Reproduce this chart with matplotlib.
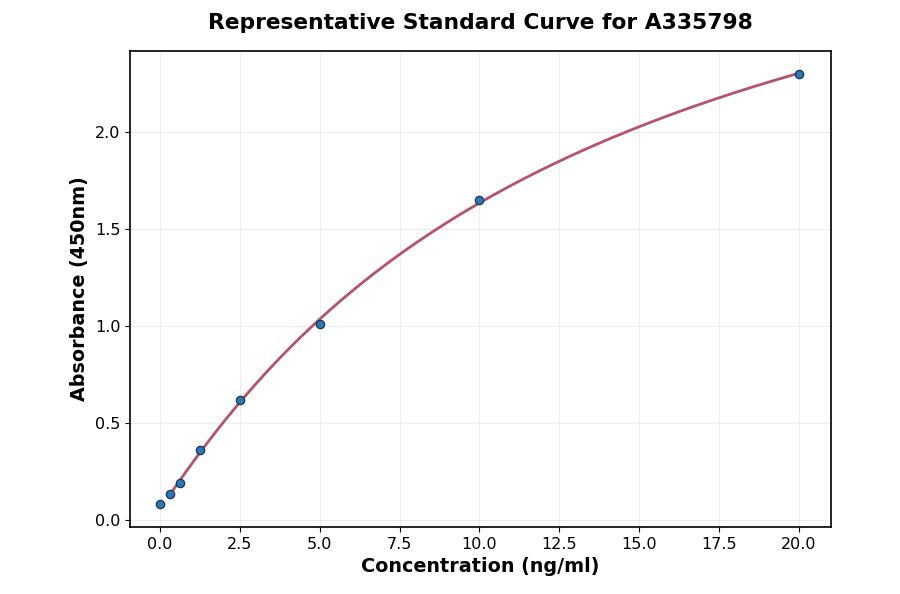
import numpy as np
import matplotlib
matplotlib.use("Agg")
import matplotlib.pyplot as plt

conc = [0.0, 0.3125, 0.625, 1.25, 2.5, 5.0, 10.0, 20.0]
absorb = [0.08, 0.135, 0.19, 0.36, 0.62, 1.01, 1.65, 2.30]


def f4pl(x, p):
    a, b, c, d = p
    return d + (a - d) / (1.0 + (x / c) ** b)


def fit4pl(x, y, p0, iters=500):
    p = np.array(p0, float)
    lam = 1e-3
    def res(p):
        return f4pl(x, p) - y
    r = res(p)
    cost = np.sum(r ** 2)
    for _ in range(iters):
        J = np.zeros((len(x), 4))
        for i in range(4):
            dp = np.zeros(4)
            dp[i] = 1e-6 * max(1.0, abs(p[i]))
            J[:, i] = (res(p + dp) - r) / dp[i]
        A = J.T @ J
        g = J.T @ r
        step = np.linalg.solve(A + lam * np.diag(np.diag(A) + 1e-12), -g)
        pn = p + step
        if pn[2] <= 0:
            lam *= 10
            continue
        rn = res(pn)
        cn = np.sum(rn ** 2)
        if cn < cost:
            p, r, cost = pn, rn, cn
            lam *= 0.3
        else:
            lam *= 10
    return p


x = np.array(conc)
y = np.array(absorb)
mask = x > 0
p = fit4pl(x[mask], y[mask], [0.05, 1.0, 15.0, 4.0])
xs = np.linspace(x[mask].min(), x.max(), 400)
ys = f4pl(xs, p)

fig = plt.figure(figsize=(9, 5.94), dpi=100)
ax = fig.add_axes([0.1445, 0.113, 0.7785, 0.801])
ax.plot(xs, ys, color="#b5536b", lw=2, zorder=2)
ax.scatter(x, y, s=36, color="#2c77b4", edgecolors="#1b3550", linewidths=0.9, zorder=3)
ax.set_xlim(-0.94, 21.0)
ax.set_ylim(-0.036, 2.418)
ax.set_xticks(np.arange(0, 20.1, 2.5))
ax.set_yticks(np.arange(0, 2.01, 0.5))
ax.tick_params(labelsize=11.5)
ax.grid(True, color="#ededed", lw=0.8)
ax.set_axisbelow(True)
for s in ax.spines.values():
    s.set_linewidth(1.2)
ax.set_xlabel("Concentration (ng/ml)", fontsize=13.8, fontweight="bold")
ax.set_ylabel("Absorbance (450nm)", fontsize=13.8, fontweight="bold")
ax.set_title("Representative Standard Curve for A335798", fontsize=15.7, fontweight="bold", pad=16)
fig.savefig("out.png", dpi=100)
